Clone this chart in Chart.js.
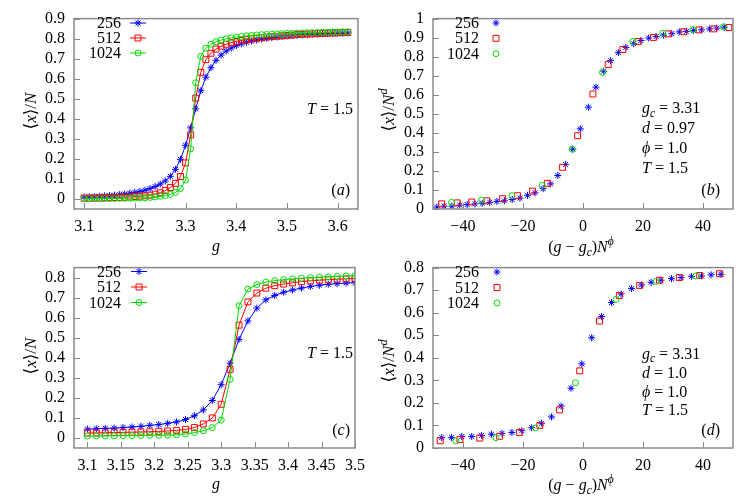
<!DOCTYPE html>
<html>
<head>
<meta charset="utf-8">
<script src="https://cdn.jsdelivr.net/npm/chart.js@4.4.0/dist/chart.umd.min.js"></script>
<style>
  html, body { margin: 0; padding: 0; background: #fff; }
  #wrap { position: relative; width: 747px; height: 498px; }
  .p { position: absolute; }
</style>
</head>
<body>
<div id="wrap">
  <div class="p" style="left:0;top:0;width:373px;height:262px"><canvas id="pa"></canvas></div>
  <div class="p" style="left:373px;top:0;width:374px;height:262px"><canvas id="pb"></canvas></div>
  <div class="p" style="left:0;top:249px;width:373px;height:249px"><canvas id="pc"></canvas></div>
  <div class="p" style="left:373px;top:249px;width:374px;height:249px"><canvas id="pd"></canvas></div>
</div>
<script>
// ---- data ----
const sizes = ["256", "512", "1024"];

// (a) <x>/N vs g
const gA = [3.10,3.11,3.12,3.13,3.14,3.15,3.16,3.17,3.18,3.19,3.20,3.21,3.22,3.23,3.24,3.25,3.26,3.27,3.28,3.29,3.30,3.31,3.32,3.33,3.34,3.35,3.36,3.37,3.38,3.39,3.40,3.41,3.42,3.43,3.44,3.45,3.46,3.47,3.48,3.49,3.50,3.51,3.52,3.53,3.54,3.55,3.56,3.57,3.58,3.59,3.60,3.61,3.62];
const a256 = [0.010,0.011,0.012,0.014,0.015,0.017,0.019,0.022,0.025,0.029,0.033,0.038,0.044,0.052,0.062,0.074,0.090,0.113,0.148,0.198,0.268,0.355,0.450,0.540,0.608,0.655,0.692,0.718,0.738,0.753,0.765,0.774,0.782,0.788,0.793,0.798,0.802,0.805,0.808,0.811,0.813,0.815,0.817,0.819,0.820,0.822,0.823,0.824,0.825,0.826,0.827,0.828,0.829];
const a512 = [0.004,0.004,0.005,0.005,0.006,0.006,0.007,0.008,0.009,0.010,0.012,0.014,0.016,0.019,0.024,0.031,0.042,0.057,0.078,0.112,0.180,0.320,0.503,0.632,0.695,0.727,0.748,0.762,0.772,0.780,0.786,0.791,0.795,0.799,0.802,0.805,0.808,0.810,0.812,0.814,0.816,0.818,0.820,0.821,0.823,0.824,0.825,0.826,0.827,0.828,0.829,0.830,0.831];
const a1024 = [0.001,0.001,0.001,0.001,0.002,0.002,0.002,0.003,0.003,0.004,0.004,0.005,0.006,0.008,0.010,0.013,0.017,0.023,0.033,0.052,0.095,0.250,0.580,0.712,0.752,0.772,0.785,0.793,0.799,0.804,0.808,0.811,0.814,0.816,0.818,0.820,0.821,0.823,0.824,0.825,0.826,0.827,0.828,0.829,0.830,0.830,0.831,0.832,0.832,0.833,0.833,0.834,0.834];

// (b) scaled, d = 0.97
const bx256 = [-48.7,-46.3,-43.7,-41.1,-38.6,-36.0,-33.6,-31.1,-28.7,-26.2,-23.6,-21.0,-18.5,-16.0,-13.3,-10.8,-8.4,-5.8,-3.4,-0.9,1.8,4.3,6.9,9.2,11.8,14.3,16.9,19.3,21.9,24.4,26.8,29.6,32.1,34.5,36.9,39.5,42.2,44.6,47.1];
const by256 = [0.010,0.015,0.015,0.020,0.023,0.027,0.030,0.035,0.040,0.043,0.050,0.057,0.072,0.085,0.107,0.132,0.176,0.234,0.314,0.421,0.535,0.640,0.724,0.779,0.821,0.849,0.868,0.885,0.898,0.906,0.913,0.921,0.930,0.933,0.938,0.941,0.946,0.950,0.955];
const bx512 = [-47.1,-41.9,-37.1,-32.0,-26.8,-21.8,-16.8,-11.9,-6.8,-1.8,3.3,8.4,13.3,18.4,23.5,28.5,33.6,38.7,43.6,48.6];
const by512 = [0.027,0.032,0.037,0.043,0.054,0.070,0.094,0.135,0.219,0.385,0.604,0.759,0.838,0.880,0.901,0.920,0.931,0.941,0.946,0.953];
const bx1024 = [-43.8,-33.8,-23.7,-13.6,-3.6,6.5,16.6,26.6,36.7,46.8];
const by1024 = [0.035,0.047,0.070,0.124,0.314,0.717,0.880,0.923,0.943,0.957];

// (c) <x>/N vs g, second run
const gC = [3.1,3.1133,3.1267,3.14,3.1533,3.1667,3.18,3.1933,3.2067,3.22,3.2333,3.2467,3.26,3.2733,3.2867,3.30,3.3133,3.3267,3.34,3.3533,3.3667,3.38,3.3933,3.4067,3.42,3.4333,3.4467,3.46,3.4733,3.4867,3.50];
const c256 = [0.044,0.046,0.048,0.049,0.052,0.055,0.058,0.063,0.067,0.073,0.080,0.092,0.111,0.140,0.187,0.266,0.373,0.492,0.584,0.648,0.689,0.711,0.727,0.738,0.748,0.756,0.762,0.767,0.770,0.773,0.775];
const c512 = [0.025,0.025,0.026,0.027,0.028,0.029,0.030,0.031,0.033,0.035,0.038,0.043,0.052,0.070,0.100,0.168,0.342,0.563,0.679,0.723,0.747,0.760,0.768,0.774,0.780,0.784,0.787,0.790,0.792,0.794,0.795];
const c1024 = [0.010,0.010,0.011,0.011,0.011,0.012,0.012,0.013,0.013,0.014,0.016,0.020,0.027,0.036,0.052,0.089,0.292,0.660,0.743,0.765,0.778,0.785,0.790,0.794,0.797,0.800,0.802,0.804,0.806,0.808,0.810];

// (d) scaled, d = 1.0
const dx256 = [-47.1,-43.8,-40.4,-37.1,-33.8,-30.5,-27.0,-23.7,-20.4,-17.1,-13.8,-10.5,-7.3,-4.0,-0.4,2.9,6.2,9.5,12.7,16.2,19.5,22.7,26.0,29.5,32.7,36.2,39.5,42.7,46.0];
const dy256 = [0.046,0.046,0.051,0.051,0.056,0.061,0.065,0.069,0.077,0.090,0.110,0.138,0.186,0.265,0.373,0.489,0.583,0.645,0.683,0.707,0.723,0.735,0.744,0.751,0.756,0.761,0.763,0.768,0.770];
const dx512 = [-47.6,-41.0,-34.4,-27.8,-21.2,-14.4,-7.8,-1.1,5.5,12.1,18.9,25.5,32.1,38.9,45.5];
const dy512 = [0.032,0.038,0.044,0.052,0.069,0.100,0.169,0.342,0.563,0.676,0.721,0.744,0.756,0.765,0.773];
const dx1024 = [-42.4,-29.0,-15.8,-2.5,11.0,24.3,37.6];
const dy1024 = [0.032,0.046,0.089,0.289,0.659,0.739,0.763];

// tick values
const xTicksA = [3.1,3.2,3.3,3.4,3.5,3.6];
const xTicksC = [3.1,3.15,3.2,3.25,3.3,3.35,3.4,3.45,3.5];
const xTicksS = [-40,-20,0,20,40];
const yTicksA = [0,0.1,0.2,0.3,0.4,0.5,0.6,0.7,0.8,0.9];
const yTicksB = [0,0.1,0.2,0.3,0.4,0.5,0.6,0.7,0.8,0.9,1];
const yTicksC = [0,0.1,0.2,0.3,0.4,0.5,0.6,0.7,0.8];

// ---- styles ----
const FONT = '"Liberation Serif", "DejaVu Serif", serif';
const FS = 16;
const BLUE = "rgb(0,0,255)", RED = "rgb(255,0,0)", GREEN = "rgb(0,220,0)";
const st256 = { color: BLUE, shape: "star", r: 3.5, order: 3 };
const st512 = { color: RED, shape: "rect", r: 4.2, order: 2 };
const st1024 = { color: GREEN, shape: "circle", r: 3, order: 1 };
const styles = [st256, st512, st1024];

function ds(xs, ys, s, line, label) {
  return {
    label,
    data: xs.map((x, i) => ({ x, y: ys[i] })),
    showLine: line,
    borderColor: s.color,
    backgroundColor: "rgba(0,0,0,0)",
    borderWidth: 1,
    pointStyle: s.shape,
    pointRadius: s.r,
    pointBorderWidth: 1,
    pointBorderColor: s.color,
    pointBackgroundColor: "rgba(0,0,0,0)",
    order: s.order
  };
}

function fontFor(s, size) {
  const small = s === "sub" || s === "sup";
  return (s === "r" ? "" : "italic ") + (small ? size * 0.72 : size) + "px " + FONT;
}

function drawRich(ctx, parts, x, y, align, size) {
  let w = 0;
  parts.forEach(([t, s]) => { ctx.font = fontFor(s, size); w += ctx.measureText(t).width; });
  let cx = align === "right" ? x - w : align === "center" ? x - w / 2 : x;
  ctx.textAlign = "left";
  ctx.textBaseline = "alphabetic";
  ctx.fillStyle = "#000";
  parts.forEach(([t, s]) => {
    ctx.font = fontFor(s, size);
    const dy = s === "sub" ? size * 0.22 : s === "sup" ? -size * 0.42 : 0;
    ctx.fillText(t, cx, y + dy);
    cx += ctx.measureText(t).width;
  });
}

// frame, inward ticks, legend, labels
function deco(cfg) {
  return {
    id: "deco",
    afterDraw(chart) {
      const { ctx, chartArea: a, scales } = chart;
      ctx.save();
      ctx.strokeStyle = "#8a8a8a";
      ctx.lineWidth = 1;
      ctx.beginPath();
      scales.x.ticks.forEach(t => {
        const px = Math.round(scales.x.getPixelForValue(t.value)) + 0.5;
        ctx.moveTo(px, a.bottom); ctx.lineTo(px, a.bottom - 6);
      });
      scales.y.ticks.forEach(t => {
        const py = Math.round(scales.y.getPixelForValue(t.value)) + 0.5;
        ctx.moveTo(a.left, py); ctx.lineTo(a.left + 6, py);
      });
      ctx.stroke();
      ctx.lineWidth = 1.5;
      ctx.strokeRect(a.left, a.top, a.right - a.left, a.bottom - a.top);

      // legend
      const L = cfg.legend;
      sizes.forEach((lab, i) => {
        const s = styles[i];
        const y = L.y0 + i * L.dy;
        drawRich(ctx, [[lab, "r"]], L.tx, y, "right", FS);
        const cy = y - 5;
        ctx.strokeStyle = s.color;
        ctx.fillStyle = "rgba(0,0,0,0)";
        ctx.lineWidth = 1;
        if (L.line) {
          ctx.beginPath(); ctx.moveTo(L.lx1, cy); ctx.lineTo(L.lx2, cy); ctx.stroke();
        }
        Chart.helpers.drawPoint(ctx, { pointStyle: s.shape, radius: s.r, borderWidth: 1, rotation: 0 }, L.mx, cy);
      });

      // free texts
      cfg.texts.forEach(([parts, x, y, align]) => drawRich(ctx, parts, x, y, align, FS));

      // axis titles
      drawRich(ctx, cfg.xTitle, cfg.xTitlePos[0], cfg.xTitlePos[1], "center", FS);
      ctx.translate(cfg.yTitlePos[0], cfg.yTitlePos[1]);
      ctx.rotate(-Math.PI / 2);
      drawRich(ctx, cfg.yTitle, 0, 0, "center", 17);
      ctx.restore();
    }
  };
}

const fmtDec = v => String(+v.toFixed(2));
const fmtSigned = v => (v < 0 ? "\u2212" + (-v) : String(v));

function panel(id, cfg) {
  new Chart(document.getElementById(id), {
    type: "scatter",
    data: { datasets: cfg.sets },
    options: {
      responsive: true,
      maintainAspectRatio: false,
      animation: false,
      devicePixelRatio: 1,
      layout: { padding: { left: 0, top: cfg.pad[0], right: cfg.pad[1], bottom: 0 } },
      plugins: { legend: { display: false }, tooltip: { enabled: false } },
      scales: {
        x: {
          type: "linear", min: cfg.xr[0], max: cfg.xr[1],
          grid: { display: false, drawTicks: false }, border: { display: false },
          ticks: { color: "#000", font: { family: FONT, size: FS }, padding: 8, maxRotation: 0, autoSkip: false, callback: cfg.xfmt },
          afterBuildTicks: s => { s.ticks = cfg.xt.map(v => ({ value: v })); },
          afterFit: s => { s.height = cfg.xh; }
        },
        y: {
          type: "linear", min: cfg.yr[0], max: cfg.yr[1],
          grid: { display: false, drawTicks: false }, border: { display: false },
          ticks: { color: "#000", font: { family: FONT, size: FS }, padding: 9, autoSkip: false, callback: v => String(+v.toFixed(1)) },
          afterBuildTicks: s => { s.ticks = cfg.yt.map(v => ({ value: v })); },
          afterFit: s => { s.width = cfg.yw; }
        }
      }
    },
    plugins: [deco(cfg)]
  });
}

const yTitleN = [["\u27E8", "r"], ["x", "i"], ["\u27E9", "r"], ["/", "r"], ["N", "i"]];
const yTitleNd = [["\u27E8", "r"], ["x", "i"], ["\u27E9", "r"], ["/", "r"], ["N", "i"], ["d", "sup"]];
const xTitleG = [["g", "i"]];
const xTitleS = [["(", "r"], ["g", "i"], [" \u2212 ", "r"], ["g", "i"], ["c", "sub"], [")", "r"], ["N", "i"], ["\u03D5", "sup"]];
const T15 = [["T", "i"], [" = 1.5", "r"]];

panel("pa", {
  sets: [ds(gA, a256, st256, true, "256"), ds(gA, a512, st512, true, "512"), ds(gA, a1024, st1024, true, "1024")],
  xr: [3.08, 3.64], yr: [-0.05, 0.9], xt: xTicksA, yt: yTicksA, xfmt: fmtDec,
  pad: [10, 15], xh: 53, yw: 74,
  legend: { y0: 28, dy: 15, tx: 121, lx1: 130, lx2: 146, mx: 138, line: true },
  texts: [[T15, 353, 114, "right"], [[["(", "r"], ["a", "i"], [")", "r"]], 350, 195, "right"]],
  xTitle: xTitleG, xTitlePos: [216, 251], yTitle: yTitleN, yTitlePos: [36, 111]
});

panel("pb", {
  sets: [ds(bx256, by256, st256, false, "256"), ds(bx512, by512, st512, false, "512"), ds(bx1024, by1024, st1024, false, "1024")],
  xr: [-50, 50], yr: [0, 1], xt: xTicksS, yt: yTicksB, xfmt: fmtSigned,
  pad: [9, 14], xh: 53, yw: 60,
  legend: { y0: 28, dy: 15.3, tx: 106, mx: 123, line: false },
  texts: [
    [[["g", "i"], ["c", "sub"], [" = 3.31", "r"]], 269, 113, "left"],
    [[["d", "i"], [" = 0.97", "r"]], 269, 133, "left"],
    [[["\u03D5", "i"], [" = 1.0", "r"]], 269, 153, "left"],
    [T15, 269, 173, "left"],
    [[["(", "r"], ["b", "i"], [")", "r"]], 347, 195, "right"]
  ],
  xTitle: xTitleS, xTitlePos: [208, 252], yTitle: yTitleNd, yTitlePos: [21, 110]
});

panel("pc", {
  sets: [ds(gC, c256, st256, true, "256"), ds(gC, c512, st512, true, "512"), ds(gC, c1024, st1024, true, "1024")],
  xr: [3.08, 3.5], yr: [-0.05, 0.85], xt: xTicksC, yt: yTicksC, xfmt: fmtDec,
  pad: [10, 15], xh: 50, yw: 74,
  legend: { y0: 27.5, dy: 15.5, tx: 121, lx1: 131, lx2: 147, mx: 139, line: true },
  texts: [[T15, 353, 109, "right"], [[["(", "r"], ["c", "i"], [")", "r"]], 350, 186, "right"]],
  xTitle: xTitleG, xTitlePos: [216, 240], yTitle: yTitleN, yTitlePos: [36, 107]
});

panel("pd", {
  sets: [ds(dx256, dy256, st256, false, "256"), ds(dx512, dy512, st512, false, "512"), ds(dx1024, dy1024, st1024, false, "1024")],
  xr: [-50, 50], yr: [0, 0.8], xt: xTicksS, yt: yTicksC, xfmt: fmtSigned,
  pad: [9, 14], xh: 50, yw: 60,
  legend: { y0: 28, dy: 15.5, tx: 106, mx: 124, line: false },
  texts: [
    [[["g", "i"], ["c", "sub"], [" = 3.31", "r"]], 269, 109.5, "left"],
    [[["d", "i"], [" = 1.0", "r"]], 269, 129, "left"],
    [[["\u03D5", "i"], [" = 1.0", "r"]], 269, 147.5, "left"],
    [T15, 269, 166, "left"],
    [[["(", "r"], ["d", "i"], [")", "r"]], 347, 186, "right"]
  ],
  xTitle: xTitleS, xTitlePos: [208, 241], yTitle: yTitleNd, yTitlePos: [21, 112]
});
</script>
</body>
</html>
